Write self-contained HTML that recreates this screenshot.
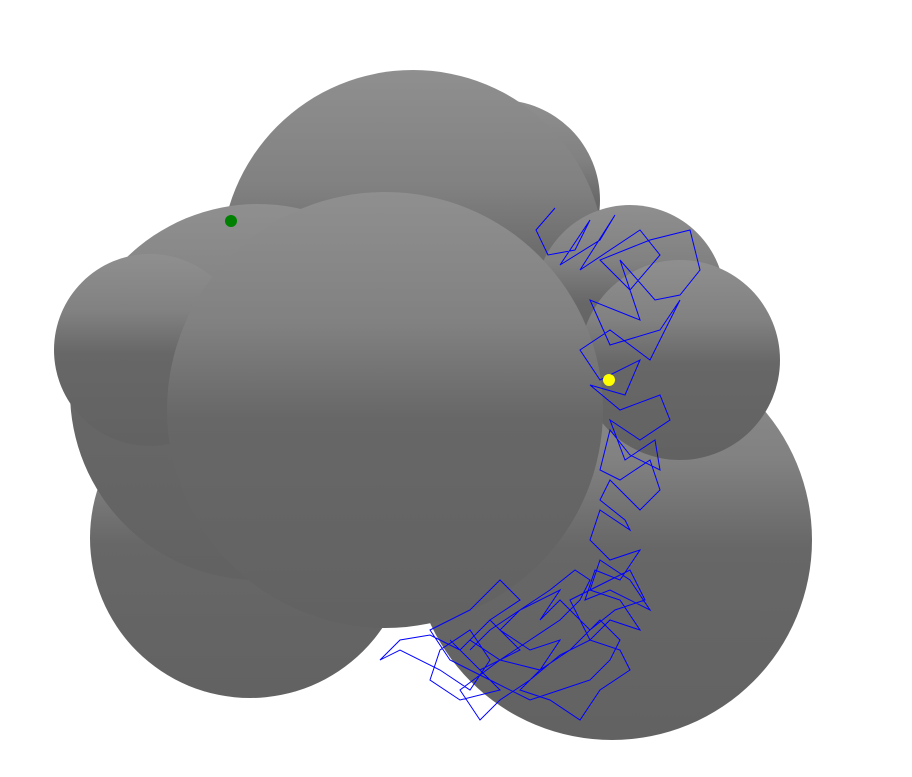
<!DOCTYPE html>
<html><head><meta charset="utf-8"><style>html,body{margin:0;padding:0;background:#fff;width:912px;height:777px;overflow:hidden}</style></head>
<body>
<svg width="912" height="777" viewBox="0 0 912 777" xmlns="http://www.w3.org/2000/svg">
<defs>
<linearGradient id="g" x1="0" y1="0" x2="0" y2="1">
<stop offset="0" stop-color="#8f8f8f"/><stop offset="0.3" stop-color="#818181"/><stop offset="0.52" stop-color="#676767"/><stop offset="1" stop-color="#626262"/>
</linearGradient>
</defs>
<g id="spheres"></g>
<polyline id="walk" fill="none" stroke="#0000ff" stroke-width="1"/>
<circle cx="231" cy="221" r="6" fill="#008000"/>
<circle cx="609" cy="380" r="6" fill="#ffff00"/>
</svg>
<script>
const sphereX=[500,413,630,612,680,250,258,150,385];
const sphereY=[200,262,300,540,360,538,392,350,410];
const sphereR=[100,192,95,200,100,160,188,96,218];
const g=document.getElementById('spheres');
for(let i=0;i<sphereX.length;i++){
 const c=document.createElementNS('http://www.w3.org/2000/svg','circle');
 
 
 c.setAttribute('cx',sphereX[i]);c.setAttribute('cy',sphereY[i]);c.setAttribute('r',sphereR[i]);
 c.setAttribute('fill','url(#g)');
 g.appendChild(c);
}
const walkX=[555,536,548,575,590,560,600,615,580,640,660,630,600,650,690,700,680,655,620,640,590,610,660,680,650,610,580,600,640,625,590,620,660,670,640,610,625,655,660,630,610,600,620,650,660,640,610,600,625,630,600,590,610,640,620,595,585,610,650,630,600,590,620,640,610,590,570,600,630,645,615,590,560,540,560,520,500,530,560,540,500,470,490,520,480,450,470,500,460,430,440,470,490,470,440,400,380,400,430,460,490,520,500,470,430,450,490,530,560,590,610,620,600,570,540,520,550,580,600,630,620,590,560,530,500,480,460,500,530,560,580,590,575,550,520,490,470];
const walkY=[208,230,255,250,220,265,240,215,270,230,255,290,260,240,230,270,295,300,260,320,300,345,330,300,360,330,350,380,360,395,385,410,395,420,440,420,460,440,470,455,430,470,480,460,490,510,480,500,520,530,510,540,560,550,580,570,600,590,610,580,560,590,600,630,620,640,600,585,570,600,610,630,600,620,590,610,630,650,640,670,660,640,620,650,670,640,660,690,700,680,650,630,660,690,670,650,660,640,635,650,620,600,580,610,630,660,680,700,690,680,660,640,620,650,670,690,700,720,690,670,650,640,655,680,700,720,690,660,640,620,600,580,570,590,610,630,650];
document.getElementById('walk').setAttribute('points',walkX.map((x,i)=>x+','+walkY[i]).join(' '));
</script>
</body></html>
